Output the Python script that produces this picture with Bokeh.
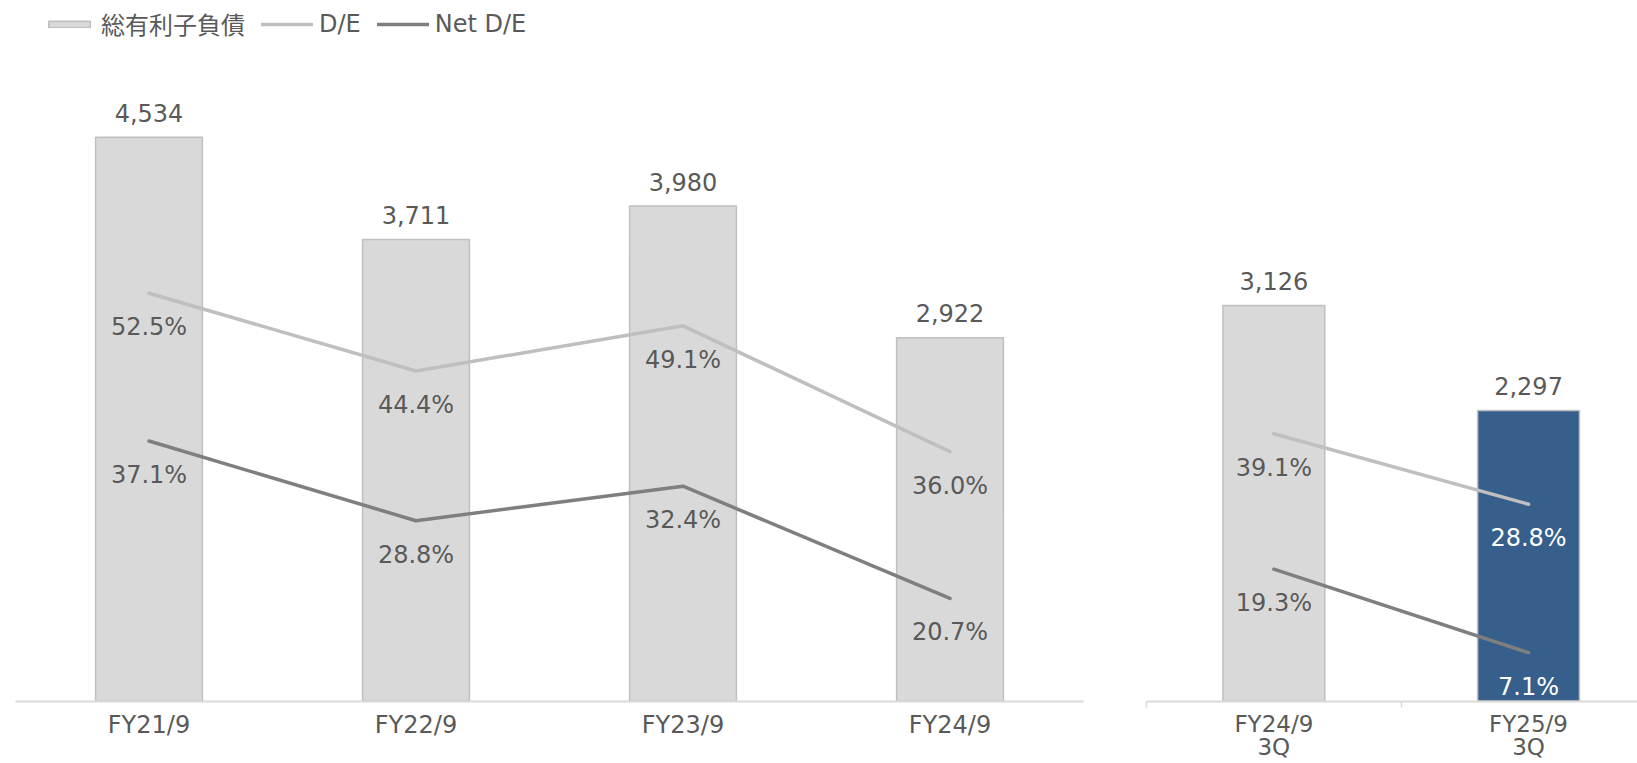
from bokeh.plotting import figure
from bokeh.layouts import row
from bokeh.models import Range1d, FactorRange, FixedTicker, Legend, LegendItem, ColumnDataSource
from bokeh.core.properties import value
from bokeh.embed import file_html
from bokeh.resources import INLINE

# ---------------- data ----------------
categories_main = ["FY21/9", "FY22/9", "FY23/9", "FY24/9"]
debt_main = [4534, 3711, 3980, 2922]
de_main = [52.5, 44.4, 49.1, 36.0]
net_de_main = [37.1, 28.8, 32.4, 20.7]

categories_q = ["FY24/9\n3Q", "FY25/9\n3Q"]
debt_q = [3126, 2297]
de_q = [39.1, 28.8]
net_de_q = [19.3, 7.1]
highlight_q = [False, True]

legend_labels = ["総有利子負債", "D/E", "Net D/E"]

# ---------------- styles ----------------
BAR_FILL = "#d9d9d9"
BAR_LINE = "#bfbfbf"
HI_FILL = "#375f8b"
DE_COLOR = "#bfbfbf"
NET_COLOR = "#7f7f7f"
TEXT = "#595959"
AXIS = "#d9d9d9"
NUM_FONT = "DejaVu Sans"
NUM_SIZE = "24px"
AX_SIZE = "24px"

FIG_H = 763
FRAME_BOTTOM = 701.0     # pixel row of the frame bottom (frame top is row 0)
BASE_PX = 700.7          # pixel row where value 0 sits

LEFT_BAR_PX = 0.1244      # px per unit of debt
LEFT_PCT_PX = 9.6         # px per percentage point
LEFT_PCT_MIN = 10.0
RIGHT_BAR_PX = 0.1266
RIGHT_PCT_PX = 6.84
CAT_PX_RIGHT = 254.7

W1, W2 = 1120, 517
L1, R1 = 15, 37
L2 = 26


def yr(px_per_unit, offset=0.0):
    return Range1d(offset + (BASE_PX - FRAME_BOTTOM) / px_per_unit, offset + BASE_PX / px_per_unit)


def fmt_pct(v):
    return f"{v:.1f}%"


def style_axis(ax):
    ax.axis_line_color = AXIS
    ax.axis_line_width = 2
    ax.major_tick_line_color = None
    ax.major_tick_out = 0
    ax.major_tick_in = 0
    ax.minor_tick_line_color = None
    ax.major_label_text_font = NUM_FONT
    ax.major_label_text_font_size = AX_SIZE
    ax.major_label_text_color = TEXT
    ax.major_label_standoff = 9


# ---------------- left figure ----------------
p1 = figure(
    x_range=FactorRange(*categories_main),
    y_range=yr(LEFT_BAR_PX),
    width=W1, height=FIG_H,
    min_border_left=L1, min_border_right=R1, min_border_top=0,
    min_border_bottom=int(round(FIG_H - FRAME_BOTTOM)),
    y_axis_location=None, toolbar_location=None, output_backend="svg",
)
p1.extra_y_ranges = {"pct": yr(LEFT_PCT_PX, LEFT_PCT_MIN)}
p1.outline_line_color = None
p1.xgrid.visible = False
p1.ygrid.visible = False
style_axis(p1.xaxis[0])

src1 = ColumnDataSource(dict(
    x=categories_main, debt=debt_main, de=de_main, net=net_de_main,
    debt_lbl=[f"{v:,}" for v in debt_main],
    de_lbl=[fmt_pct(v) for v in de_main],
    net_lbl=[fmt_pct(v) for v in net_de_main],
))

bars1 = p1.vbar(x="x", top="debt", width=0.4, source=src1,
                fill_color=BAR_FILL, line_color=BAR_LINE, line_width=1.5)
de1 = p1.line(x="x", y="de", source=src1, y_range_name="pct",
              line_color=DE_COLOR, line_width=3.5, line_cap="round", line_join="round")
net1 = p1.line(x="x", y="net", source=src1, y_range_name="pct",
               line_color=NET_COLOR, line_width=3.5, line_cap="round", line_join="round")

common_txt = dict(text_align="center", text_baseline="middle",
                  text_font=value(NUM_FONT), text_font_size=NUM_SIZE)
BAR_LBL_OFF = -24.5
PCT_LBL_OFF = 34
p1.text(x="x", y="debt", text="debt_lbl", source=src1, y_offset=BAR_LBL_OFF, text_color=TEXT, **common_txt)
p1.text(x="x", y="de", text="de_lbl", source=src1, y_range_name="pct", y_offset=PCT_LBL_OFF, text_color=TEXT, **common_txt)
p1.text(x="x", y="net", text="net_lbl", source=src1, y_range_name="pct", y_offset=PCT_LBL_OFF, text_color=TEXT, **common_txt)

legend = Legend(
    items=[LegendItem(label=legend_labels[0], renderers=[bars1]),
           LegendItem(label=legend_labels[1], renderers=[de1]),
           LegendItem(label=legend_labels[2], renderers=[net1])],
    orientation="horizontal",
    location=(28, FRAME_BOTTOM - 41),
    padding=0, margin=0, spacing=16,
    glyph_width=52, glyph_height=8, label_standoff=6,
    label_text_font="DejaVu Sans, 'Noto Sans CJK JP'", label_text_font_size="24px",
    label_text_color=TEXT,
    border_line_color=None, background_fill_alpha=0,
)
p1.add_layout(legend)

# ---------------- right figure ----------------
right_frame_w = W2 - L2
xs_q = [i + 0.5 for i in range(len(categories_q))]
p2 = figure(
    x_range=Range1d(0, right_frame_w / CAT_PX_RIGHT),
    y_range=yr(RIGHT_BAR_PX),
    width=W2, height=FIG_H,
    min_border_left=L2, min_border_right=0, min_border_top=0,
    min_border_bottom=int(round(FIG_H - FRAME_BOTTOM)),
    y_axis_location=None, toolbar_location=None, output_backend="svg",
)
p2.extra_y_ranges = {"pct": yr(RIGHT_PCT_PX)}
p2.outline_line_color = None
p2.xgrid.visible = False
p2.ygrid.visible = False
ax2 = p2.xaxis[0]
style_axis(ax2)
ax2.ticker = FixedTicker(ticks=xs_q, minor_ticks=[float(i) for i in range(len(categories_q) + 1)])
ax2.major_label_overrides = {x: c for x, c in zip(xs_q, categories_q)}
ax2.minor_tick_line_color = AXIS
ax2.minor_tick_line_width = 1.5
ax2.minor_tick_out = 6
ax2.minor_tick_in = 0
ax2.major_label_text_font_size = "23px"
ax2.major_label_text_line_height = 0.9
ax2.major_label_standoff = 3

src2 = ColumnDataSource(dict(
    x=xs_q, debt=debt_q, de=de_q, net=net_de_q,
    fill=[HI_FILL if h else BAR_FILL for h in highlight_q],
    lbl_color=["#ffffff" if h else TEXT for h in highlight_q],
    debt_lbl=[f"{v:,}" for v in debt_q],
    de_lbl=[fmt_pct(v) for v in de_q],
    net_lbl=[fmt_pct(v) for v in net_de_q],
))
p2.vbar(x="x", top="debt", width=0.4, source=src2,
        fill_color="fill", line_color=BAR_LINE, line_width=1.5)
p2.line(x="x", y="de", source=src2, y_range_name="pct",
        line_color=DE_COLOR, line_width=3.5, line_cap="round")
p2.line(x="x", y="net", source=src2, y_range_name="pct",
        line_color=NET_COLOR, line_width=3.5, line_cap="round")
p2.text(x="x", y="debt", text="debt_lbl", source=src2, y_offset=BAR_LBL_OFF, text_color=TEXT, **common_txt)
p2.text(x="x", y="de", text="de_lbl", source=src2, y_range_name="pct", y_offset=PCT_LBL_OFF, text_color="lbl_color", **common_txt)
p2.text(x="x", y="net", text="net_lbl", source=src2, y_range_name="pct", y_offset=PCT_LBL_OFF, text_color="lbl_color", **common_txt)

layout = row(p1, p2)
open("out.html", "w").write(file_html(layout, INLINE))
